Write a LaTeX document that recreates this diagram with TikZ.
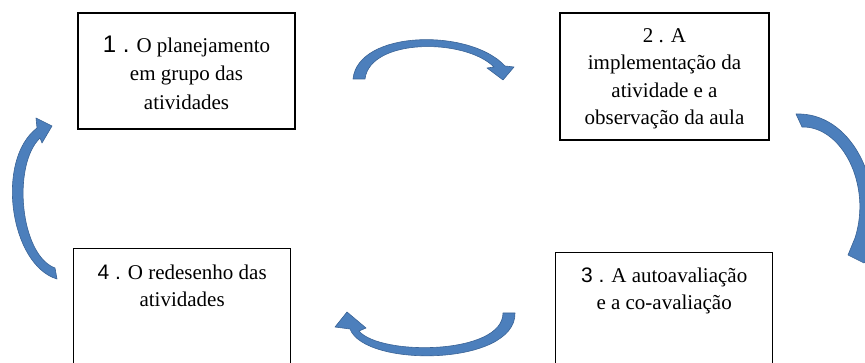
\documentclass[tikz,border=0pt]{standalone}
\usepackage{fontspec}
\setmainfont{Liberation Serif}
\newfontfamily\numfont{Liberation Sans}
\definecolor{arrowblue}{RGB}{76,127,188}
\definecolor{arrowedge}{RGB}{58,99,150}
\begin{document}
\begin{tikzpicture}[x=1pt, y=-1pt,
  stagebox/.style={draw, line width=1.3pt, inner sep=0pt},
  stagetext/.style={align=center, inner sep=0pt, font=\fontsize{21}{27}\selectfont},
  bentarrow/.style={fill=arrowblue, draw=arrowedge, line width=0.6pt, line join=round}]
  \useasboundingbox (0,0) rectangle (865,363);
  \clip (0,0) rectangle (865,363);

  \node[stagebox, minimum width=217pt, minimum height=116pt] (plan) at (186.5,71) {};
  \node[stagetext] (plantxt) at ([yshift=-1.5pt]plan.center)
    {{\numfont\fontsize{24}{28}\selectfont 1 .} O planejamento\\[1.5pt]em grupo das\\[1.5pt]atividades};
  \node[stagebox, minimum width=209pt, minimum height=127pt] (lesson) at (664.5,76.5) {};
  \node[stagetext] (lessontxt) at ([yshift=-2.5pt]lesson.center)
    {2 . A\\[0.5pt]implementação da\\[0.5pt]atividade e a\\[0.5pt]observação da aula};
  \node[stagebox, minimum width=217pt, minimum height=130pt, anchor=north west] (review) at (555,252) {};
  \node[stagetext, anchor=north] (reviewtxt) at ([yshift=-15.5pt]review.north)
    {{\numfont 3 .} A autoavaliação\\e a co-avaliação};
  \node[stagebox, minimum width=217pt, minimum height=130pt, anchor=north west] (redesign) at (73,248) {};
  \node[stagetext, anchor=north] (redesigntxt) at ([yshift=-17pt]redesign.north)
    {{\numfont 4 .} O redesenho das\\atividades};

  \draw[bentarrow] (353,79) .. controls (358,30) and (470,28) .. (505,66) -- (514,67) -- (503,80)
    -- (487,68) -- (494,67) .. controls (465,38) and (370,38) .. (365,79) -- cycle;
  \draw[bentarrow] (796,114) .. controls (850,112) and (885,180) .. (870,242) -- (884,238) -- (864,263)
    -- (848,255) -- (855,238) .. controls (872,185) and (842,126) .. (802,127) -- cycle;
  \draw[bentarrow] (515,313) .. controls (516,366) and (365,368) .. (350,329) -- (335,327) -- (347,312)
    -- (366,328) -- (359,331) .. controls (380,356) and (503,355) .. (503,313) -- cycle;
  \draw[bentarrow] (57,279) .. controls (10,265) and (-5,160) .. (37,128) -- (36,118) -- (52,126)
    -- (42,143) -- (40,138) .. controls (12,165) and (20,255) .. (55,268) -- cycle;
\end{tikzpicture}
\end{document}
